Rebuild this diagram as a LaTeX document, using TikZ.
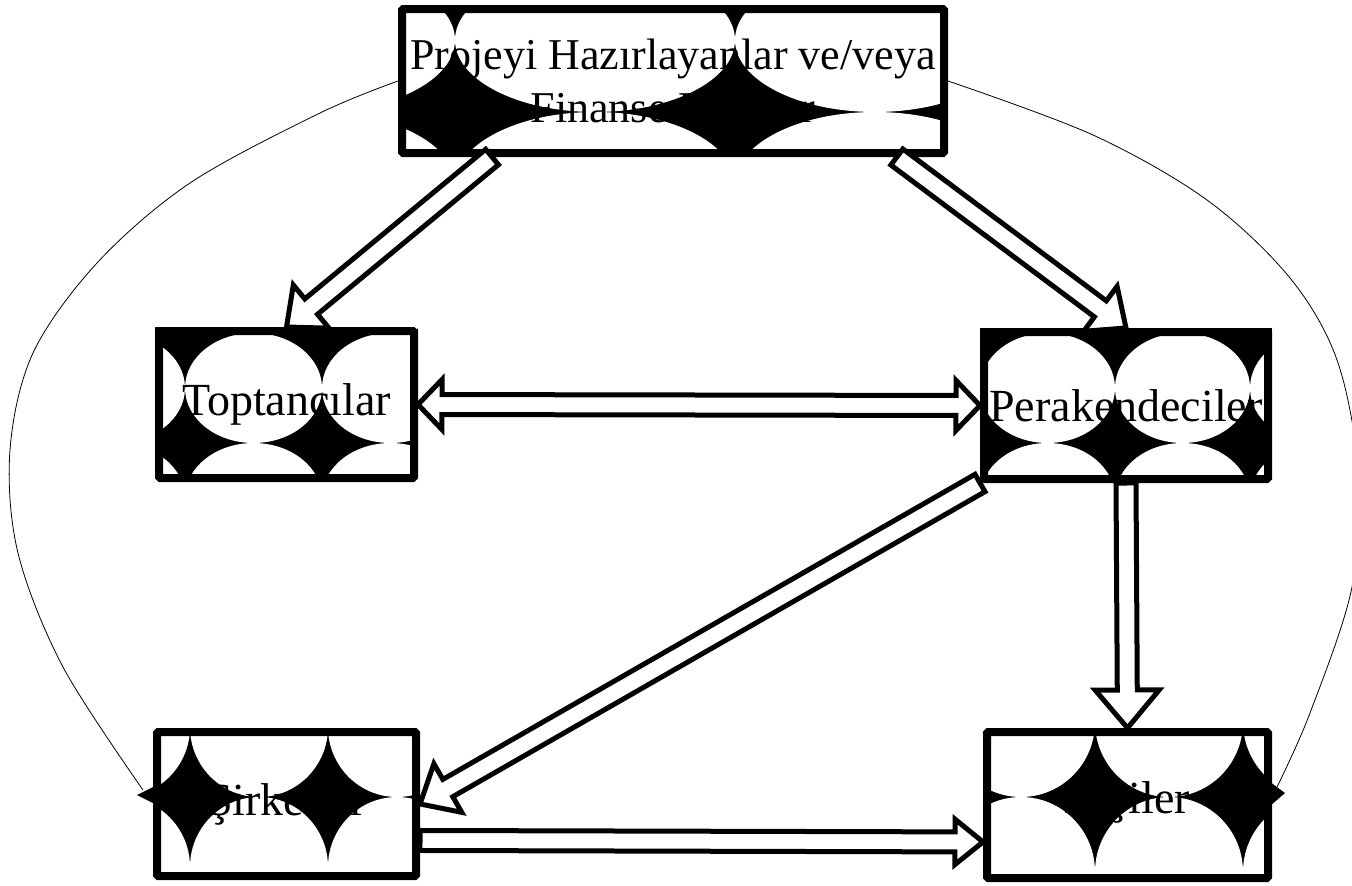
\documentclass[tikz,border=0pt]{standalone}
\usepackage{fontspec}
\setmainfont{Liberation Serif}
\usetikzlibrary{calc,backgrounds}

\def\shaftw{7.5pt}
% block arrow: from, to, head half width, head length
\newcommand{\blockarrow}[4]{%
  \path let \p1=(#1), \p2=(#2) in
    \pgfextra{\pgfmathsetmacro\arrang{atan2(\y2-\y1,\x2-\x1)}%
      \pgfmathsetmacro\arrlen{veclen(\x2-\x1,\y2-\y1)}%
      \xdef\arrang{\arrang}\xdef\arrlen{\arrlen}};
  \draw[blockline, shift={(#1)}, rotate=\arrang]
    (0pt,-\shaftw) -- ({\arrlen pt-#4},-\shaftw) -- ({\arrlen pt-#4},-#3)
    -- (\arrlen pt,0pt) -- ({\arrlen pt-#4},#3) -- ({\arrlen pt-#4},\shaftw)
    -- (0pt,\shaftw) -- cycle;
}
\newcommand{\blockarrowboth}[4]{%
  \path let \p1=(#1), \p2=(#2) in
    \pgfextra{\pgfmathsetmacro\arrang{atan2(\y2-\y1,\x2-\x1)}%
      \pgfmathsetmacro\arrlen{veclen(\x2-\x1,\y2-\y1)}%
      \xdef\arrang{\arrang}\xdef\arrlen{\arrlen}};
  \draw[blockline, shift={(#1)}, rotate=\arrang]
    (0pt,0pt) -- (#4,#3) -- (#4,\shaftw) -- ({\arrlen pt-#4},\shaftw)
    -- ({\arrlen pt-#4},#3) -- (\arrlen pt,0pt) -- ({\arrlen pt-#4},-#3)
    -- ({\arrlen pt-#4},-\shaftw) -- (#4,-\shaftw) -- (#4,-#3) -- cycle;
}
% black fill with white ellipses: node, star x, star y, dx, dy
\newcommand{\starfill}[5]{%
  \begin{scope}
    \clip (#1.south west) rectangle (#1.north east);
    \fill (#1.south west) rectangle (#1.north east);
    \foreach \i in {-3,...,3}
      \foreach \j in {-2,...,2}
        \fill[white] ({#2+#4/2+\i*#4},{#3+#5/2+\j*#5})
          ellipse [x radius={#4*0.375pt}, y radius={#5*0.375pt}];
  \end{scope}
}

\begin{document}
\begin{tikzpicture}[x=0.75pt,y=-0.75pt,
  box/.style={draw,line width=6pt,rounded corners=1pt,inner sep=0pt,
    align=center,font=\fontsize{34.5}{38}\selectfont},
  blockline/.style={draw,fill=white,line width=3.75pt,line join=miter},
  arc/.style={line width=0.6pt}]

\useasboundingbox (0,0) rectangle (1352,885);

%%%%%%%%%%%%%%%%%%%%%%%%%%%%%%%%%%%%%%

\node[box,minimum width=406.5pt,minimum height=108pt,
  font=\fontsize{33}{38}\selectfont] (top) at (673,81)
  {Projeyi Hazırlayanlar ve/veya\\[2pt]Finanse Edenler};
\node[box,minimum width=191.25pt,minimum height=110.25pt] (topt) at (286.5,404.5) {Toptancılar};
\node[box,minimum width=213pt,minimum height=110.25pt] (perak) at (1126,405.5) {Perakendeciler};
\node[box,minimum width=194.25pt,minimum height=108pt] (sirk) at (286.5,804) {Şirketler};
\node[box,minimum width=210.75pt,minimum height=109.5pt] (kisi) at (1127.5,805) {\raisebox{11pt}{Kişiler}};

\begin{scope}[on background layer]
  \starfill{top}{455}{112}{280}{144}
  \starfill{topt}{185}{333}{137}{110}
  \starfill{perak}{980}{333}{135}{110}
  \starfill{sirk}{190}{797}{138}{140}
  \starfill{kisi}{1095}{797}{148}{150}
  \fill (155,786) -- (137,795) -- (155,804) -- cycle;
  \fill (1270,782) -- (1285,793) -- (1270,806) -- cycle;
\end{scope}

%%%%%%%%%%%%%%%%%%%%%%%%%%%%%%%%%%%%%%

\coordinate (cL) at (143,790);
\coordinate (cR) at (1277,787);
\draw[arc] plot[smooth,tension=.55] coordinates {(top.west) (320,113) (190,183)
  (97,263) (33,353) (10,450) (18,553) (63,667) (cL)};
\draw[arc] plot[smooth,tension=.55] coordinates {(top.east) (1093,135) (1207,200)
  (1290,278) (1337,360) (1358,470) (1352,587) (1310,713) (cR)};

%%%%%%%%%%%%%%%%%%%%%%%%%%%%%%%%%%%%%%

\coordinate (a1) at ($(top.south west)!.171!(top.south east)$);
\coordinate (a2) at ($(top.south west)!.907!(top.south east)$);
\coordinate (a6s) at ($(sirk.north east)!.74!(sirk.south east)$);
\coordinate (a6e) at ($(kisi.north west)!.74!(kisi.south west)$);

\blockarrow{a1}{topt.north}{21pt}{24pt}
\blockarrow{a2}{perak.north}{21pt}{24pt}
\blockarrowboth{topt.east}{perak.west}{18.75pt}{18pt}
\blockarrow{perak.south}{kisi.north}{24pt}{28.5pt}
\blockarrow{perak.south west}{sirk.east}{21pt}{24pt}
\blockarrow{a6s}{a6e}{17pt}{21pt}

\end{tikzpicture}
\end{document}
